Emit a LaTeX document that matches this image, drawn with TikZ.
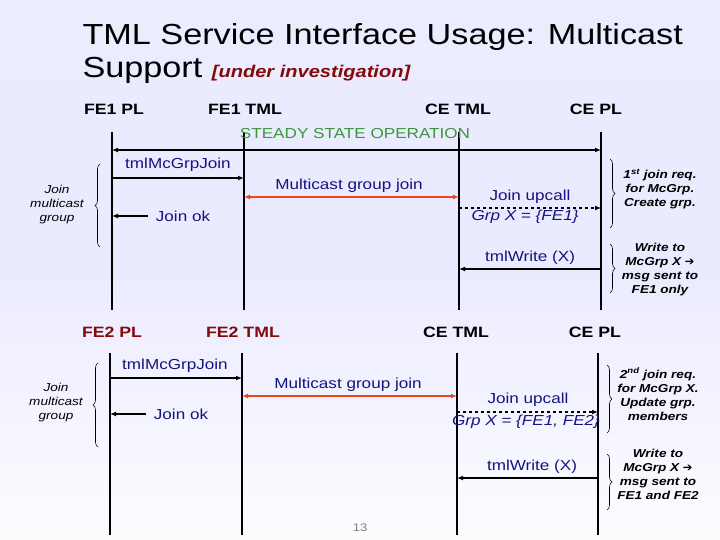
\documentclass[tikz,border=0pt]{standalone}
\usepackage{fontspec}
\setmainfont[FakeStretch=1.18]{Liberation Sans}
\newfontfamily\djv{DejaVu Sans}
\usetikzlibrary{decorations.pathreplacing,arrows.meta}
\definecolor{msgblue}{RGB}{20,20,130}
\definecolor{hdrred}{RGB}{130,10,10}
\definecolor{stgreen}{RGB}{60,150,60}
\definecolor{arrred}{RGB}{235,70,30}
\newcommand{\bigarr}{{\djv\bfseries\upshape ➔}}
\begin{document}
\begin{tikzpicture}[x=1pt,y=-1pt,
  life/.style={line width=1.6pt},
  msg/.style={line width=1.2pt,-{Latex[length=6pt,width=5pt]}},
  hdr/.style={font=\bfseries\fontsize{15}{17}\selectfont},
  lbl/.style={text=msgblue,font=\fontsize{14.5}{16}\selectfont},
  note/.style={font=\bfseries\itshape\fontsize{11.5}{14}\selectfont,align=center},
  brc/.style={decorate,decoration={brace,amplitude=5pt},line width=0.6pt}]
\shade[top color=white!70!blue!25,bottom color=white!90!blue!10,middle color=blue!8] (0,0) rectangle (720,540);
\useasboundingbox (0,0) rectangle (720,540);
\node[anchor=west,font=\fontsize{29}{31}\selectfont] (t1) at (79,37) {TML Service Interface Usage: Multicast};
\node[anchor=west,font=\fontsize{29}{31}\selectfont] (t2) at (79,70) {Support \textcolor{hdrred}{\bfseries\itshape\fontsize{17}{19}\selectfont [under investigation]}};
% upper
\node[hdr] (h1) at (114,109) {FE1 PL};
\node[hdr] (h2) at (245,109) {FE1 TML};
\node[hdr] (h3) at (458,109) {CE TML};
\node[hdr] (h4) at (596,109) {CE PL};
\coordinate (a1) at (112,132); \coordinate (a1e) at (112,310);
\coordinate (b1) at (244,132); \coordinate (b1e) at (244,310);
\coordinate (c1) at (459,132); \coordinate (c1e) at (459,310);
\coordinate (d1) at (601,132); \coordinate (d1e) at (601,310);
\foreach \p in {a1,b1,c1,d1} \draw[life] (\p) -- (\p e);
\node[text=stgreen,font=\fontsize{14.5}{16}\selectfont] (ss) at (355,134) {STEADY STATE OPERATION};
\coordinate (s1) at (112,150); \coordinate (s2) at (601,150);
\draw[msg,{Latex[length=6pt,width=5pt]}-{Latex[length=6pt,width=5pt]}] (s1) -- (s2);
\coordinate (j1) at (112,178); \coordinate (j2) at (244,178);
\draw[msg] (j1) -- (j2);
\node[lbl] (jl) at (178,165) {tmlMcGrpJoin};
\coordinate (m1) at (244,197); \coordinate (m2) at (459,197);
\draw[msg,arrred,{Latex[length=6pt,width=5pt]}-{Latex[length=6pt,width=5pt]}] (m1) -- (m2);
\node[lbl] (ml) at (349,186) {Multicast group join};
\coordinate (u1) at (459,208); \coordinate (u2) at (601,208);
\draw[msg,dashed] (u1) -- (u2);
\node[lbl] (ul) at (530,197) {Join upcall};
\node[lbl,font=\itshape\fontsize{14.5}{16}\selectfont] (gl) at (525,217) {Grp X = \{FE1\}};
\coordinate (k1) at (148,216); \coordinate (k2) at (112,216);
\draw[msg] (k1) -- (k2);
\node[lbl] (kl) at (183,216) {Join ok};
\coordinate (w1) at (601,269); \coordinate (w2) at (459,269);
\draw[msg] (w1) -- (w2);
\node[lbl] (wl) at (530,258) {tmlWrite (X)};
\coordinate (lb1) at (100,247); \coordinate (lb2) at (100,164);
\draw[brc] (lb1) -- (lb2);
\node[note,font=\itshape\fontsize{11.5}{14}\selectfont] (ln1) at (57,205) {Join\\multicast\\group};
\coordinate (rb1) at (610,159); \coordinate (rb2) at (610,228);
\draw[brc] (rb1) -- (rb2);
\node[note] (rn1) at (660,189) {1\textsuperscript{st} join req.\\for McGrp.\\Create grp.};
\coordinate (rc1) at (610,244); \coordinate (rc2) at (610,293);
\draw[brc] (rc1) -- (rc2);
\node[note] (rn2) at (660,270) {Write to\\McGrp X \bigarr\\msg sent to\\FE1 only};
% lower
\node[hdr,text=hdrred] (g1) at (112,332) {FE2 PL};
\node[hdr,text=hdrred] (g2) at (243,332) {FE2 TML};
\node[hdr] (g3) at (456,332) {CE TML};
\node[hdr] (g4) at (595,332) {CE PL};
\coordinate (a2) at (110,353); \coordinate (a2e) at (110,535);
\coordinate (b2) at (242,353); \coordinate (b2e) at (242,535);
\coordinate (c2) at (457,353); \coordinate (c2e) at (457,535);
\coordinate (d2) at (598,353); \coordinate (d2e) at (598,535);
\foreach \p in {a2,b2,c2,d2} \draw[life] (\p) -- (\p e);
\coordinate (J1) at (110,378); \coordinate (J2) at (242,378);
\draw[msg] (J1) -- (J2);
\node[lbl] (Jl) at (175,366) {tmlMcGrpJoin};
\coordinate (M1) at (242,396); \coordinate (M2) at (457,396);
\draw[msg,arrred,{Latex[length=6pt,width=5pt]}-{Latex[length=6pt,width=5pt]}] (M1) -- (M2);
\node[lbl] (Ml) at (348,385) {Multicast group join};
\coordinate (U1) at (457,412); \coordinate (U2) at (598,412);
\draw[msg,dashed] (U1) -- (U2);
\node[lbl] (Ul) at (528,400) {Join upcall};
\node[lbl,font=\itshape\fontsize{14.5}{16}\selectfont] (Gl) at (526,422) {Grp X = \{FE1, FE2\}};
\coordinate (K1) at (146,414); \coordinate (K2) at (110,414);
\draw[msg] (K1) -- (K2);
\node[lbl] (Kl) at (181,414) {Join ok};
\coordinate (W1) at (598,478); \coordinate (W2) at (457,478);
\draw[msg] (W1) -- (W2);
\node[lbl] (Wl) at (532,467) {tmlWrite (X)};
\coordinate (LB1) at (98,447); \coordinate (LB2) at (98,363);
\draw[brc] (LB1) -- (LB2);
\node[note,font=\itshape\fontsize{11.5}{14}\selectfont] (LN1) at (56,403) {Join\\multicast\\group};
\coordinate (RB1) at (607,365); \coordinate (RB2) at (607,433);
\draw[brc] (RB1) -- (RB2);
\node[note] (RN1) at (658,394) {2\textsuperscript{nd} join req.\\for McGrp X.\\Update grp.\\members};
\coordinate (RC1) at (607,454); \coordinate (RC2) at (607,510);
\draw[brc] (RC1) -- (RC2);
\node[note] (RN2) at (658,474) {Write to\\McGrp X \bigarr\\msg sent to\\FE1 and FE2};
\node[text=gray,font=\fontsize{11}{13}\selectfont] (pg) at (360,528) {13};
\end{tikzpicture}
\end{document}
